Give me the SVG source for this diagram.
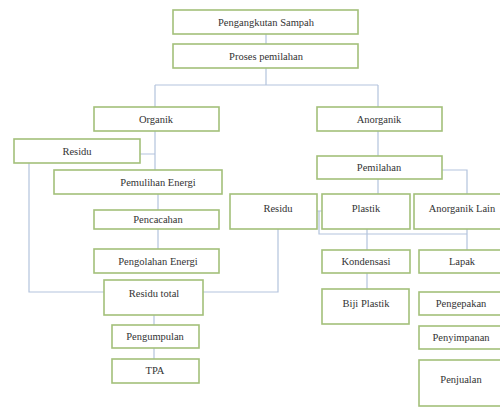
<svg xmlns="http://www.w3.org/2000/svg" width="500" height="407" viewBox="0 0 500 407">
<style>
.b{fill:#fff;stroke:#a3c07a;stroke-width:1.6}
.t{font-family:'Liberation Serif','Times New Roman','DejaVu Serif',serif;font-size:10.5px;fill:#333;text-anchor:middle}
.c{fill:none;stroke:#b3c3dd;stroke-width:1.2}
</style>
<rect width="500" height="407" fill="#fff"/>
<g id="connectors">
<path class="c" d="M266 34V44"/>
<path class="c" d="M266 68V85M155 85H378M155 85V107M378 85V107"/>
<path class="c" d="M155 131V170M140 154H155"/>
<path class="c" d="M158 194V210M158 229V249"/>
<path class="c" d="M29 163V292H104"/>
<path class="c" d="M203 292H278V229"/>
<path class="c" d="M154 315V325M154 348V359"/>
<path class="c" d="M378 131V156M378 179V194"/>
<path class="c" d="M442 170H467V194"/>
<path class="c" d="M317 211H322M319 211V234H467M467 229V250"/>
<path class="c" d="M367 229V250M367 273V289"/>
</g>
<g id="n1"><rect class="b" x="173" y="10" width="185" height="24"/><text class="t" x="266" y="25.5">Pengangkutan Sampah</text></g>
<g id="n2"><rect class="b" x="173" y="44" width="185" height="24"/><text class="t" x="266" y="59.5">Proses pemilahan</text></g>
<g id="n3"><rect class="b" x="94" y="107" width="125" height="24"/><text class="t" x="156" y="122.5">Organik</text></g>
<g id="n4"><rect class="b" x="317" y="107" width="125" height="24"/><text class="t" x="379" y="122.5">Anorganik</text></g>
<g id="n5"><rect class="b" x="14" y="139" width="126" height="24"/><text class="t" x="77" y="154.5">Residu</text></g>
<g id="n6"><rect class="b" x="54" y="170" width="168" height="24"/><text class="t" x="158" y="185.5">Pemulihan Energi</text></g>
<g id="n7"><rect class="b" x="94" y="210" width="125" height="19"/><text class="t" x="158" y="223">Pencacahan</text></g>
<g id="n8"><rect class="b" x="94" y="249" width="125" height="24"/><text class="t" x="158" y="264.5">Pengolahan Energi</text></g>
<g id="n9"><rect class="b" x="104" y="280" width="99" height="35"/><text class="t" x="154" y="296.5">Residu total</text></g>
<g id="n10"><rect class="b" x="112" y="325" width="87" height="23"/><text class="t" x="155" y="340">Pengumpulan</text></g>
<g id="n11"><rect class="b" x="112" y="359" width="87" height="24"/><text class="t" x="155" y="374">TPA</text></g>
<g id="n12"><rect class="b" x="317" y="156" width="125" height="23"/><text class="t" x="379" y="171">Pemilahan</text></g>
<g id="n13"><rect class="b" x="230" y="194" width="87" height="35"/><text class="t" x="278" y="211.5">Residu</text></g>
<g id="n14"><rect class="b" x="322" y="194" width="88" height="35"/><text class="t" x="366" y="211.5">Plastik</text></g>
<g id="n15"><rect class="b" x="414" y="194" width="96" height="35"/><text class="t" x="462" y="211.5">Anorganik Lain</text></g>
<g id="n16"><rect class="b" x="322" y="250" width="88" height="23"/><text class="t" x="366" y="265">Kondensasi</text></g>
<g id="n17"><rect class="b" x="419" y="250" width="86" height="23"/><text class="t" x="462" y="265">Lapak</text></g>
<g id="n18"><rect class="b" x="322" y="289" width="87" height="35"/><text class="t" x="366" y="306.5">Biji Plastik</text></g>
<g id="n19"><rect class="b" x="419" y="292" width="86" height="23"/><text class="t" x="461" y="307">Pengepakan</text></g>
<g id="n20"><rect class="b" x="419" y="326" width="86" height="23"/><text class="t" x="461" y="341">Penyimpanan</text></g>
<g id="n21"><rect class="b" x="419" y="360" width="86" height="46"/><text class="t" x="461" y="382.5">Penjualan</text></g>
</svg>
